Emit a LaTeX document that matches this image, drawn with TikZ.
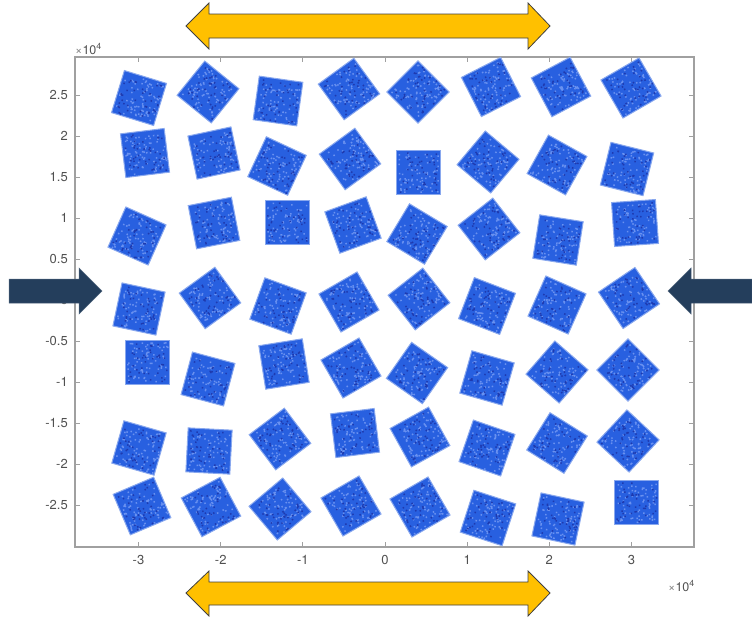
\documentclass[tikz,border=0pt]{standalone}
\usepackage{fontspec}
\setmainfont{TeX Gyre Heros}
\usepackage{tikz}

\definecolor{grainblue}{RGB}{40,96,224}
\definecolor{grainlight}{RGB}{105,145,240}
\definecolor{graindark}{RGB}{30,58,175}
\definecolor{pushyellow}{RGB}{255,192,0}
\definecolor{pushdark}{RGB}{36,62,92}
\definecolor{axisgray}{RGB}{160,160,160}
\definecolor{labelgray}{RGB}{80,80,80}

\tikzset{
  grain/.style={fill=grainblue, draw=grainblue!55!white, line width=1pt},
  ticklabel/.style={text=labelgray, font=\fontsize{13}{13}\selectfont, inner sep=1pt},
  powerlabel/.style={text=labelgray, font=\fontsize{12.5}{12.5}\selectfont, inner sep=0pt},
  yellowarrow/.style={fill=pushyellow, draw=black!75, line width=0.8pt},
  darkarrow/.style={fill=pushdark, draw=pushdark!80!white, line width=0.5pt}
}

\begin{document}
\begin{tikzpicture}[x=1pt, y=-1pt]
        \useasboundingbox (0,0) rectangle (752,619);
        \pgfmathsetseed{11}

        % Khung truc toa do
        \draw[axisgray, line width=1.2pt] (75,57) rectangle (694,547);
        \foreach \xv/\xl in {138.5/-3, 220.7/-2, 302.8/-1, 385/0, 467.2/1, 549.3/2, 631.5/3} {
            \draw[axisgray, line width=1pt] (\xv,547) -- (\xv,542);
            \draw[axisgray, line width=1pt] (\xv,57) -- (\xv,62);
            \node[ticklabel, anchor=north] (xt\xl) at (\xv,554) {\xl};
        }
        \foreach \yv/\yl in {95/2.5, 136/2, 177/1.5, 218/1, 259/0.5, 300/0, 341/-0.5, 382/-1, 423/-1.5, 464/-2, 505/-2.5} {
            \draw[axisgray, line width=1pt] (75,\yv) -- (80,\yv);
            \draw[axisgray, line width=1pt] (694,\yv) -- (689,\yv);
            \node[ticklabel, anchor=east] (yt\yl) at (69,\yv) {\yl};
        }
        \node[powerlabel, anchor=base west] (ypow) at (75,54) {{\color{labelgray!70}×}10\textsuperscript{4}};
        \node[powerlabel, anchor=base east] (xpow) at (695,591) {{\color{labelgray!70}×}10\textsuperscript{4}};

        % Cac hat hinh vuong (tam x, tam y, goc quay)
        \foreach \cx/\cy/\ang in {
            139/98/-17, 208/92/-39, 278/101/-8, 349/89/36, 418/92/45, 491/87/27, 561/87/28, 631/88/30,
            145/153/7, 214/153/12, 277/166/-25, 350/159/36, 418/172/0, 488/162/-40, 557/165/-29, 627/169/-14,
            137/236/-24, 214/223/11, 287/222/0, 353/225/20, 417/234/-31, 489/229/38, 558/240/-9, 635/223/4,
            139/309/-12, 210/298/36, 278/306/-20, 349/302/30, 419/299/38, 487/306/-21, 557/305/-24, 629/298/34,
            147/362/0, 208/379/-15, 284/364/9, 351/368/30, 417/373/-35, 487/378/-16, 557/372/-41, 628/370/45,
            139/448/-16, 209/451/-3, 280/439/37, 355/433/7, 420/437/29, 487/448/-19, 557/443/-32, 628/441/-43,
            142/506/23, 211/507/28, 280/509/40, 351/506/30, 420/507/30, 488/518/-18, 558/519/-12, 636/502/0} {
            \begin{scope}[shift={(\cx,\cy)}, rotate=\ang]
                \draw[grain] (-22,-22) rectangle (22,22);
                \fill[grainlight] foreach \k in {1,...,75} {(20*rand,20*rand) rectangle ++(1.5,1.5)};
                \fill[graindark] foreach \k in {1,...,40} {(20*rand,20*rand) rectangle ++(1.5,1.5)};
            \end{scope}
        }

        % Mui ten vang hai dau (tren va duoi)
        \draw[yellowarrow] (186,26) -- (209,3) -- (209,14) -- (528,14) -- (528,3) -- (550,26)
            -- (528,49) -- (528,38) -- (209,38) -- (209,49) -- cycle;
        \draw[yellowarrow] (186,593) -- (209,571) -- (209,582) -- (528,582) -- (528,571) -- (550,593)
            -- (528,616) -- (528,605) -- (209,605) -- (209,616) -- cycle;

        % Mui ten nen hai ben
        \draw[darkarrow] (9,279) -- (79,279) -- (79,268) -- (102,291) -- (79,314) -- (79,303) -- (9,303) -- cycle;
        \draw[darkarrow] (752,279) -- (691,279) -- (691,268) -- (668,291) -- (691,314) -- (691,303) -- (752,303) -- cycle;
    \end{tikzpicture}
\end{document}
